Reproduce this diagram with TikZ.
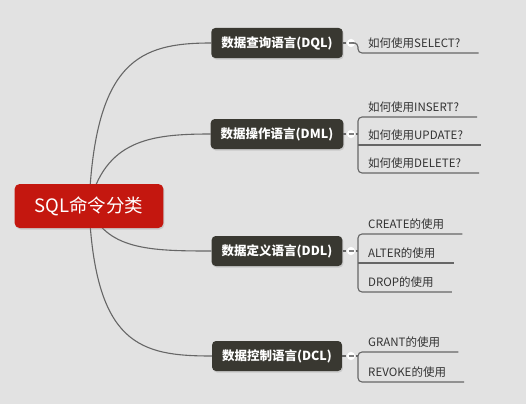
\documentclass[tikz,border=0pt]{standalone}
\usepackage{fontspec}
\setmainfont{Noto Sans CJK SC}
\usetikzlibrary{backgrounds,shadows}
\definecolor{bgcol}{HTML}{E2E2E2}
\definecolor{rootred}{HTML}{C4170F}
\definecolor{topicdark}{HTML}{393831}
\definecolor{linecol}{HTML}{666666}
\definecolor{leaftext}{HTML}{333333}
\tikzset{
  rootbox/.style={draw=none, fill=rootred, rounded corners=5pt, text=white,
    minimum height=44pt, inner xsep=20pt, font=\fontsize{18.5}{22}\selectfont,
    drop shadow={opacity=0.25, shadow xshift=1pt, shadow yshift=-1.5pt}},
  topic/.style={draw=none, fill=topicdark, rounded corners=4pt, text=white,
    minimum height=30pt, inner xsep=10pt, font=\fontsize{12.5}{15}\selectfont\bfseries,
    drop shadow={opacity=0.25, shadow xshift=1pt, shadow yshift=-1.5pt}},
  fold/.style={circle, fill=white, draw=white!75!gray, line width=0.4pt,
    minimum size=9pt, inner sep=0pt,
    path picture={\draw[line width=1.3pt, gray]
      ([xshift=-2.5pt]path picture bounding box.center) --
      ([xshift=2.5pt]path picture bounding box.center);}},
  leaf/.style={anchor=south west, inner xsep=0pt, inner ysep=4pt, text=leaftext,
    font=\fontsize{11.5}{14}\selectfont,
    execute at begin node=\hspace{10pt}, execute at end node=\hspace{18pt}},
  link/.style={draw=linecol, line width=1.1pt},
}
\begin{document}
\begin{tikzpicture}[x=1pt, y=1pt]
    \useasboundingbox (0,0) rectangle (526,-404);
    % main nodes
    \node (root) at (89,-206) [rootbox] {SQL命令分类};
    \node (dql) at (277,-43) [topic] {数据查询语言(DQL)};
    \node (dml) at (277,-134) [topic] {数据操作语言(DML)};
    \node (ddl) at (277,-251) [topic] {数据定义语言(DDL)};
    \node (dcl) at (277,-356) [topic] {数据控制语言(DCL)};
    % fold buttons
    \node (dqlc) at (351,-43) [fold] {};
    \node (dmlc) at (351,-134) [fold] {};
    \node (ddlc) at (351,-251) [fold] {};
    \node (dclc) at (351,-356) [fold] {};
    % leaves
    \node (select) at (358,-53) [leaf] {如何使用SELECT?};
    \node (insert) at (358,-117) [leaf] {如何使用INSERT?};
    \node (update) at (358,-145) [leaf] {如何使用UPDATE?};
    \node (delete) at (358,-173) [leaf] {如何使用DELETE?};
    \node (create) at (358,-234) [leaf] {CREATE的使用};
    \node (alter) at (358,-263) [leaf] {ALTER的使用};
    \node (drop) at (358,-292) [leaf] {DROP的使用};
    \node (grant) at (358,-352) [leaf] {GRANT的使用};
    \node (revoke) at (358,-382) [leaf] {REVOKE的使用};
    \begin{scope}[on background layer]
        \fill[bgcol] (0,0) rectangle (526,-404);
        \draw[link] (root.center) .. controls (95,-60) and (140,-43) .. (dql.west);
        \draw[link] (root.center) .. controls (105,-140) and (150,-134) .. (dml.west);
        \draw[link] (root.center) .. controls (105,-250) and (150,-251) .. (ddl.west);
        \draw[link] (root.center) .. controls (95,-345) and (140,-356) .. (dcl.west);
    \end{scope}
    \draw[link] (dql) -- (dqlc);
    \draw[link] (dml) -- (dmlc);
    \draw[link] (ddl) -- (ddlc);
    \draw[link] (dcl) -- (dclc);
    % brackets and underlines
    \draw[link, rounded corners=4pt] (dqlc.east) -- (select.south west |- dqlc.east) -- (select.south west) -- (select.south east);
    \draw[link, rounded corners=4pt] (insert.south east) -- (insert.south west) -- (delete.south west) -- (delete.south east);
    \draw[link] (dmlc.east) -- (update.south west |- dmlc.east);
    \draw[link] (update.south west) -- (update.south east);
    \draw[link, rounded corners=4pt] (create.south east) -- (create.south west) -- (drop.south west) -- (drop.south east);
    \draw[link] (ddlc.east) -- (alter.south west |- ddlc.east);
    \draw[link] (alter.south west) -- (alter.south east);
    \draw[link, rounded corners=4pt] (grant.south east) -- (grant.south west) -- (revoke.south west) -- (revoke.south east);
    \draw[link] (dclc.east) -- (grant.south west |- dclc.east);
\end{tikzpicture}
\end{document}
